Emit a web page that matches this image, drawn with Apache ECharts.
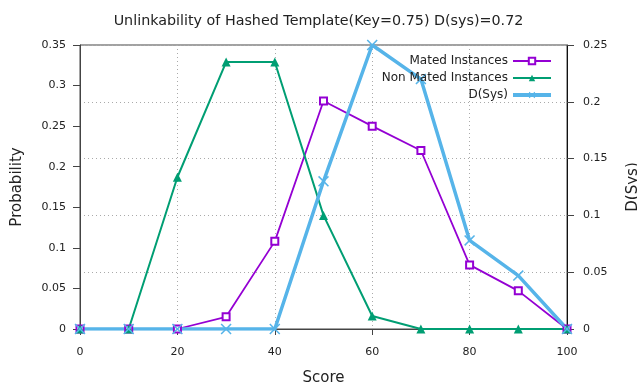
<!DOCTYPE html>
<html>
<head>
<meta charset="utf-8">
<script src="https://cdn.jsdelivr.net/npm/echarts@6/dist/echarts.min.js"></script>
<style>html,body{margin:0;padding:0;background:#fff}#c{width:637px;height:382px}</style>
</head>
<body>
<div id="c"></div>
<script>
const scores = [0, 10, 20, 30, 40, 50, 60, 70, 80, 90, 100];
const matedInstances = [0, 0, 0, 0.015, 0.108, 0.281, 0.25, 0.22, 0.079, 0.047, 0];
const nonMatedInstances = [0, 0, 0.187, 0.329, 0.329, 0.140, 0.016, 0, 0, 0, 0];
const dSys = [0, 0, 0, 0, 0, 0.130, 0.25, 0.22, 0.078, 0.047, 0];
const titleText = 'Unlinkability of Hashed Template(Key=0.75) D(sys)=0.72';
const seriesNames = ['Mated Instances', 'Non Mated Instances', 'D(Sys)'];

const FONT = 'DejaVu Sans';
const TXT = '#222';
const pairs = (ys) => scores.map((x, i) => [x, ys[i]]);
const xMark = 'path://M0,1L1,0L5,4L9,0L10,1L6,5L10,9L9,10L5,6L1,10L0,9L4,5Z';

const chart = echarts.init(document.getElementById('c'), null, {renderer: 'canvas'});
chart.setOption({
  animation: false,
  backgroundColor: '#fff',
  textStyle: {fontFamily: FONT, color: TXT},
  title: {
    text: titleText, left: 'center', top: 9,
    textStyle: {fontFamily: FONT, fontSize: 14.3, fontWeight: 'normal', color: TXT}
  },
  grid: {left: 80, right: 70, top: 45, bottom: 53, show: true, borderColor: '#444', borderWidth: 1,
         containLabel: false, outerBoundsMode: 'none'},
  legend: {
    orient: 'vertical', right: 84, top: 55, align: 'right', padding: 0,
    itemWidth: 38, itemHeight: 8, itemGap: 5,
    textStyle: {fontFamily: FONT, fontSize: 12, color: TXT},
    data: [
      {name: seriesNames[0], lineStyle: {width: 1.8}},
      {name: seriesNames[1], lineStyle: {width: 2}},
      {name: seriesNames[2], lineStyle: {width: 4}}
    ]
  },
  xAxis: [{
    type: 'value', min: 0, max: 100, interval: 20,
    name: 'Score', nameLocation: 'middle', nameGap: 42,
    nameTextStyle: {fontFamily: FONT, fontSize: 15, color: TXT},
    axisLine: {show: true, onZero: false, lineStyle: {color: '#111', width: 1}},
    axisTick: {show: true, inside: false, length: 5, lineStyle: {color: '#111'}},
    axisLabel: {margin: 18, fontFamily: FONT, fontSize: 11, color: TXT},
    splitLine: {show: true, lineStyle: {color: '#aaa', type: [1, 3], width: 1}}
  }, {
    type: 'value', min: 0, max: 100, interval: 20, position: 'top',
    axisLine: {show: true, lineStyle: {color: '#444'}},
    axisTick: {show: true, inside: true, length: 6, lineStyle: {color: '#444'}},
    axisLabel: {show: false}, splitLine: {show: false}
  }],
  yAxis: [{
    type: 'value', min: 0, max: 0.35, interval: 0.05, position: 'left',
    name: 'Probability', nameLocation: 'middle', nameGap: 55, nameRotate: 90,
    nameTextStyle: {fontFamily: FONT, fontSize: 15, color: TXT},
    axisLine: {show: true, onZero: false, lineStyle: {color: '#444'}},
    axisTick: {show: true, inside: false, length: 7, lineStyle: {color: '#444'}},
    axisLabel: {margin: 14, fontFamily: FONT, fontSize: 11, color: TXT},
    splitLine: {show: false}
  }, {
    type: 'value', min: 0, max: 0.25, interval: 0.05, position: 'right',
    name: 'D(Sys)', nameLocation: 'middle', nameGap: 59, nameRotate: 90,
    nameTextStyle: {fontFamily: FONT, fontSize: 15, color: TXT},
    axisLine: {show: true, onZero: false, lineStyle: {color: '#111'}},
    axisTick: {show: true, inside: false, length: 7, lineStyle: {color: '#444'}},
    axisLabel: {margin: 16, fontFamily: FONT, fontSize: 11, color: TXT},
    splitLine: {show: true, lineStyle: {color: '#aaa', type: [1, 3], width: 1}}
  }],
  series: [{
    name: seriesNames[0], type: 'line', xAxisIndex: 0, yAxisIndex: 0,
    data: pairs(matedInstances), color: '#9400d3',
    symbol: 'emptyRect', symbolSize: 7,
    lineStyle: {width: 1.8, color: '#9400d3'},
    itemStyle: {color: '#9400d3', borderWidth: 1.5}
  }, {
    name: seriesNames[1], type: 'line', xAxisIndex: 0, yAxisIndex: 0,
    data: pairs(nonMatedInstances), color: '#009e73',
    symbol: 'triangle', symbolSize: 9,
    lineStyle: {width: 2, color: '#009e73'},
    itemStyle: {color: '#009e73'}
  }, {
    name: seriesNames[2], type: 'line', xAxisIndex: 0, yAxisIndex: 1,
    data: pairs(dSys), color: '#56b4e9',
    symbol: xMark, symbolSize: 11,
    lineStyle: {width: 3.5, color: '#56b4e9'},
    itemStyle: {color: '#56b4e9'}
  }]
});
</script>
</body>
</html>
